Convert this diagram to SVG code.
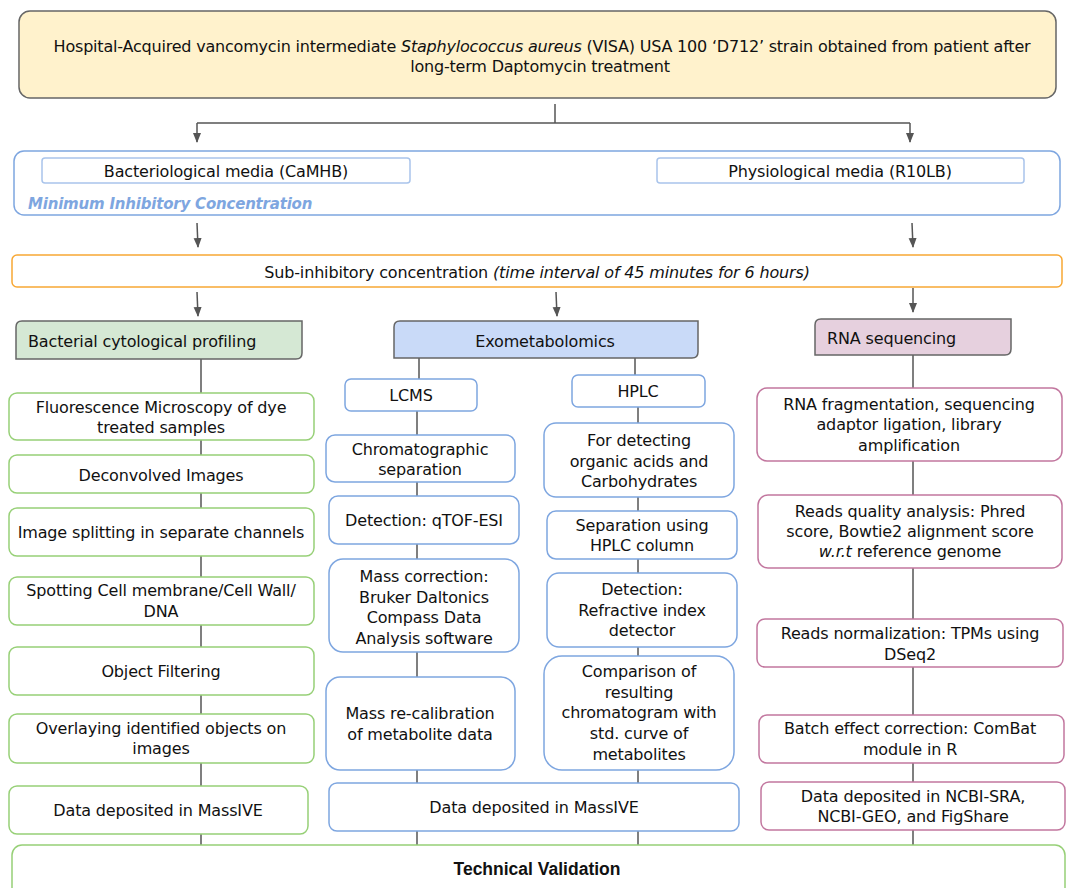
<svg xmlns="http://www.w3.org/2000/svg" width="1068" height="888" viewBox="0 0 1068 888">
<defs>
<marker id="ah" viewBox="0 0 10 10" refX="9" refY="5" markerWidth="10" markerHeight="10" markerUnits="userSpaceOnUse" orient="auto"><path d="M0,1 L10,5 L0,9 Z" fill="#555"/></marker>
<style>
text{font-family:"DejaVu Sans","Liberation Sans",sans-serif;font-size:16px;fill:#111;letter-spacing:-0.15px}
.c{text-anchor:middle}
.g{fill:#fff;stroke:#97d077;stroke-width:1.5}
.b{fill:#fff;stroke:#7ea6e0;stroke-width:1.5}
.p{fill:#fff;stroke:#c2779f;stroke-width:1.5}
.ln{stroke:#555;stroke-width:1.5;fill:none}
.ar{stroke:#555;stroke-width:1.5;fill:none;marker-end:url(#ah)}
</style>
</defs>
<rect width="1068" height="888" fill="#fff"/>

<g id="connectors">
<path class="ln" d="M555,104 L555,123"/>
<path class="ln" d="M197,123 L910,123"/>
<path class="ar" d="M197,123 L197,142"/>
<path class="ar" d="M910,123 L910,142"/>
<path class="ar" d="M197,223 L198,247"/>
<path class="ar" d="M912,223 L913,247"/>
<path class="ar" d="M197,292 L198,316"/>
<path class="ar" d="M556,292 L557,316"/>
<path class="ar" d="M913,288 L913,312"/>
<path class="ln" d="M201,359 L201,845"/>
<path class="ln" d="M419,358 L419,379 M417,411 L417,783 M417,831 L417,845"/>
<path class="ln" d="M635,358 L635,375 M638,407 L638,783 M638,831 L638,845"/>
<path class="ln" d="M913,355 L913,845"/>
</g>

<g id="top">
<rect x="19" y="11" width="1037" height="87" rx="11" fill="#fff2cc" stroke="#666" stroke-width="1.5"/>
<text class="c" x="542" y="52" style="letter-spacing:-0.2px">Hospital-Acquired vancomycin intermediate <tspan font-style="italic">Staphylococcus aureus</tspan> (VISA) USA 100 ‘D712’ strain obtained from patient after</text>
<text class="c" x="540" y="72" style="letter-spacing:-0.2px">long-term Daptomycin treatment</text>
</g>

<g id="mic">
<rect x="14" y="151" width="1046" height="64" rx="10" fill="#fff" stroke="#7ea6e0" stroke-width="1.5"/>
<text x="28" y="209" style="font-style:italic;font-weight:bold;fill:#7ea6e0;font-size:15px;letter-spacing:-0.2px">Minimum  Inhibitory  Concentration</text>
</g>
<g id="camhb">
<rect x="42" y="158" width="368" height="25" rx="3" fill="#fff" stroke="#a9c4eb" stroke-width="1.5"/>
<text class="c" x="226" y="177">Bacteriological media (CaMHB)</text>
</g>
<g id="r10lb">
<rect x="657" y="158" width="367" height="25" rx="3" fill="#fff" stroke="#a9c4eb" stroke-width="1.5"/>
<text class="c" x="840" y="177">Physiological media (R10LB)</text>
</g>

<g id="subinhib">
<rect x="12" y="255" width="1050" height="32" rx="5" fill="#fff" stroke="#f8a835" stroke-width="1.5"/>
<text class="c" x="537" y="278">Sub-inhibitory concentration <tspan font-style="italic">(time interval of 45 minutes for 6 hours)</tspan></text>
</g>

<g id="bcp">
<path d="M22,321 L302,321 L302,353 Q302,359 296,359 L16,359 L16,327 Q16,321 22,321 Z" fill="#d5e8d4" stroke="#666" stroke-width="1.5"/>
<text x="28" y="347">Bacterial cytological profiling</text>
</g>
<g id="exo">
<path d="M400,321 L698,321 L698,352 Q698,358 692,358 L394,358 L394,327 Q394,321 400,321 Z" fill="#c9daf8" stroke="#666" stroke-width="1.5"/>
<text class="c" x="545" y="347">Exometabolomics</text>
</g>
<g id="rnaseq">
<path d="M821,319 L1011,319 L1011,349 Q1011,355 1005,355 L815,355 L815,325 Q815,319 821,319 Z" fill="#e6d0de" stroke="#666" stroke-width="1.5"/>
<text x="827" y="344">RNA sequencing</text>
</g>

<g id="g1"><rect class="g" x="9" y="393" width="305" height="47" rx="8"/>
<text class="c" x="161" y="413">Fluorescence Microscopy of dye</text><text class="c" x="161" y="433">treated samples</text></g>
<g id="g2"><rect class="g" x="9" y="455" width="305" height="38" rx="8"/>
<text class="c" x="161" y="481">Deconvolved Images</text></g>
<g id="g3"><rect class="g" x="9" y="508" width="305" height="48" rx="8"/>
<text class="c" x="161" y="538">Image splitting in separate channels</text></g>
<g id="g4"><rect class="g" x="9" y="577" width="305" height="48" rx="8"/>
<text class="c" x="161" y="596">Spotting Cell membrane/Cell Wall/</text><text class="c" x="161" y="617">DNA</text></g>
<g id="g5"><rect class="g" x="9" y="647" width="305" height="48" rx="8"/>
<text class="c" x="161" y="677">Object Filtering</text></g>
<g id="g6"><rect class="g" x="9" y="714" width="305" height="49" rx="8"/>
<text class="c" x="161" y="734">Overlaying identified objects on</text><text class="c" x="161" y="754">images</text></g>
<g id="g7"><rect class="g" x="9" y="786" width="299" height="48" rx="8"/>
<text class="c" x="158" y="816">Data deposited in MassIVE</text></g>

<g id="lcms"><rect class="b" x="345" y="379" width="132" height="32" rx="6"/>
<text class="c" x="411" y="401">LCMS</text></g>
<g id="hplc"><rect class="b" x="572" y="375" width="133" height="32" rx="6"/>
<text class="c" x="638" y="397">HPLC</text></g>
<g id="b1"><rect class="b" x="326" y="435" width="189" height="47" rx="9"/>
<text class="c" x="420" y="455">Chromatographic</text><text class="c" x="420" y="475">separation</text></g>
<g id="b2"><rect class="b" x="329" y="496" width="190" height="48" rx="9"/>
<text class="c" x="424" y="526">Detection: qTOF-ESI</text></g>
<g id="b3"><rect class="b" x="329" y="559" width="190" height="93" rx="14"/>
<text class="c" x="424" y="582">Mass correction:</text><text class="c" x="424" y="603">Bruker Daltonics</text><text class="c" x="424" y="623">Compass Data</text><text class="c" x="424" y="644">Analysis software</text></g>
<g id="b4"><rect class="b" x="326" y="677" width="189" height="93" rx="14"/>
<text class="c" x="420" y="719">Mass re-calibration</text><text class="c" x="420" y="740">of metabolite data</text></g>
<g id="h1"><rect class="b" x="544" y="423" width="190" height="74" rx="12"/>
<text class="c" x="639" y="446">For detecting</text><text class="c" x="639" y="467">organic acids and</text><text class="c" x="639" y="487">Carbohydrates</text></g>
<g id="h2"><rect class="b" x="547" y="511" width="190" height="48" rx="9"/>
<text class="c" x="642" y="531">Separation using</text><text class="c" x="642" y="551">HPLC column</text></g>
<g id="h3"><rect class="b" x="547" y="573" width="190" height="74" rx="12"/>
<text class="c" x="642" y="595">Detection:</text><text class="c" x="642" y="616">Refractive index</text><text class="c" x="642" y="636">detector</text></g>
<g id="h4"><rect class="b" x="544" y="656" width="190" height="114" rx="18"/>
<text class="c" x="639" y="677">Comparison of</text><text class="c" x="639" y="698">resulting</text><text class="c" x="639" y="718">chromatogram with</text><text class="c" x="639" y="739">std.  curve of</text><text class="c" x="639" y="760">metabolites</text></g>
<g id="mid-data"><rect class="b" x="329" y="783" width="410" height="48" rx="8"/>
<text class="c" x="534" y="813">Data deposited in MassIVE</text></g>

<g id="r1"><rect class="p" x="757" y="388" width="305" height="73" rx="10"/>
<text class="c" x="909" y="410">RNA fragmentation, sequencing</text><text class="c" x="909" y="430">adaptor ligation, library</text><text class="c" x="909" y="451">amplification</text></g>
<g id="r2"><rect class="p" x="758" y="495" width="304" height="73" rx="10"/>
<text class="c" x="910" y="517">Reads quality analysis: Phred</text><text class="c" x="910" y="537">score, Bowtie2 alignment score</text><text class="c" x="910" y="557"><tspan font-style="italic">w.r.t</tspan> reference genome</text></g>
<g id="r3"><rect class="p" x="757" y="619" width="306" height="48" rx="8"/>
<text class="c" x="910" y="639">Reads normalization: TPMs using</text><text class="c" x="910" y="660">DSeq2</text></g>
<g id="r4"><rect class="p" x="759" y="715" width="305" height="48" rx="8"/>
<text class="c" x="910" y="734">Batch effect correction: ComBat</text><text class="c" x="910" y="755">module in R</text></g>
<g id="r5"><rect class="p" x="761" y="782" width="304" height="48" rx="8"/>
<text class="c" x="913" y="802">Data deposited in NCBI-SRA,</text><text class="c" x="913" y="822">NCBI-GEO, and FigShare</text></g>

<g id="validation"><rect x="12" y="845" width="1053" height="60" rx="10" fill="#fff" stroke="#97d077" stroke-width="1.5"/>
<text class="c" x="537" y="875" style="font-family:'Liberation Sans',Arial,sans-serif;font-weight:bold;font-size:17.5px;letter-spacing:0">Technical Validation</text></g>
</svg>
